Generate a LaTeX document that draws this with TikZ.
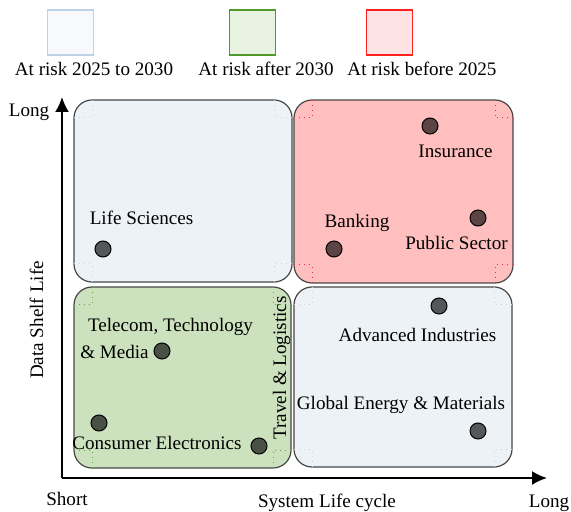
\documentclass[tikz,border=0pt]{standalone}
\usepackage{fontspec}
\setmainfont{Liberation Serif}
\usetikzlibrary{arrows.meta}
\definecolor{qblue}{HTML}{EDF2F7}
\definecolor{qred}{HTML}{FFBFBF}
\definecolor{qgreen}{HTML}{CCE2BE}
\definecolor{mblue}{HTML}{C2D4E6}
\definecolor{mred}{HTML}{F03030}
\definecolor{mgreen}{HTML}{5AAA3A}
\definecolor{lb1fill}{HTML}{F7F9FC}
\definecolor{lb1draw}{HTML}{BCD2E8}
\definecolor{lb2fill}{HTML}{E8F3E1}
\definecolor{lb2draw}{HTML}{4F9A2B}
\definecolor{lb3fill}{HTML}{FDE3E3}
\definecolor{lb3draw}{HTML}{FF2020}
\newcommand\qcorners[5]{%
  \draw[#5, dotted, line width=0.5pt] (#1,#2+18) -| (#1+18,#2);
  \draw[#5, dotted, line width=0.5pt] (#3,#2+18) -| (#3-18,#2);
  \draw[#5, dotted, line width=0.5pt] (#1,#4-18) -| (#1+18,#4);
  \draw[#5, dotted, line width=0.5pt] (#3,#4-18) -| (#3-18,#4);
}
\begin{document}
\begin{tikzpicture}[x=0.5pt,y=-0.5pt,
  font=\fontsize{9.55}{11.4}\selectfont,
  quad/.style={draw=black!72, line width=0.6pt, rounded corners=9pt},
  dot/.style={circle, draw=black, line width=0.5pt, fill=black, fill opacity=0.64, draw opacity=1, minimum size=8pt, inner sep=0pt},
  lbl/.style={inner sep=0pt, anchor=base},
  legbox/.style={minimum width=23pt, minimum height=22.5pt, inner sep=0pt, line width=0.6pt},
  axis/.style={line width=1pt, -{Latex[length=7.5pt,width=7pt]}}
]
\useasboundingbox (0,0) rectangle (571,512);

% legend
\node[legbox, draw=lb1draw, fill=lb1fill] (lb1) at (70.7,32.5) {};
\node[legbox, draw=lb2draw, fill=lb2fill] (lb2) at (252.7,32.5) {};
\node[legbox, draw=lb3draw, fill=lb3fill] (lb3) at (389.8,32.5) {};
\node[lbl] (lt1) at (94,76) {At risk 2025 to 2030};
\node[lbl] (lt2) at (266,76) {At risk after 2030};
\node[lbl] (lt3) at (422,76) {At risk before 2025};

% quadrants
\draw[quad, fill=qblue] (74,100) rectangle (292,282);
\draw[quad, fill=qred] (294,100) rectangle (513,283);
\draw[quad, fill=qgreen] (74,287) rectangle (291,468);
\draw[quad, fill=qblue] (294,287) rectangle (512,467);
\qcorners{74}{100}{292}{282}{mblue}
\qcorners{294}{100}{513}{283}{mred}
\qcorners{74}{287}{291}{468}{mgreen}
\qcorners{294}{287}{512}{467}{mblue}

% axes
\coordinate (O) at (62,478);
\coordinate (ytip) at (62,97);
\coordinate (xtip) at (547,478);
\draw[axis] (O) -- (ytip);
\draw[axis] (O) -- (xtip);
\node[lbl] (ylong) at (29,117) {Long};
\node[lbl, rotate=90] (ylab) at (43,320) {Data Shelf Life};
\node[lbl] (xshort) at (67,505) {Short};
\node[lbl] (xlab) at (327,507) {System Life cycle};
\node[lbl] (xlong) at (549,507) {Long};

% items
\node[dot] (d1) at (103,249) {};
\node[lbl] (t1) at (141.5,225) {Life Sciences};
\node[dot] (d2) at (430,126) {};
\node[lbl] (t2) at (455.5,158) {Insurance};
\node[dot] (d3) at (334,249) {};
\node[lbl] (t3) at (357,228) {Banking};
\node[dot] (d4) at (478,218) {};
\node[lbl] (t4) at (456.5,250) {Public Sector};
\node[dot] (d5) at (162,351) {};
\node[lbl] (t5a) at (170.5,331) {Telecom, Technology};
\node[lbl] (t5b) at (114.5,358) {\& Media};
\node[dot] (d6) at (99,423) {};
\node[dot] (d7) at (259,446) {};
\node[lbl] (t6) at (157,449) {Consumer Electronics};
\node[lbl, rotate=90] (t7) at (286,368) {Travel \& Logistics};
\node[dot] (d8) at (439,306) {};
\node[lbl] (t8) at (417.5,341) {Advanced Industries};
\node[lbl] (t9) at (401,409) {Global Energy \& Materials};
\node[dot] (d9) at (478,431) {};
\end{tikzpicture}
\end{document}
